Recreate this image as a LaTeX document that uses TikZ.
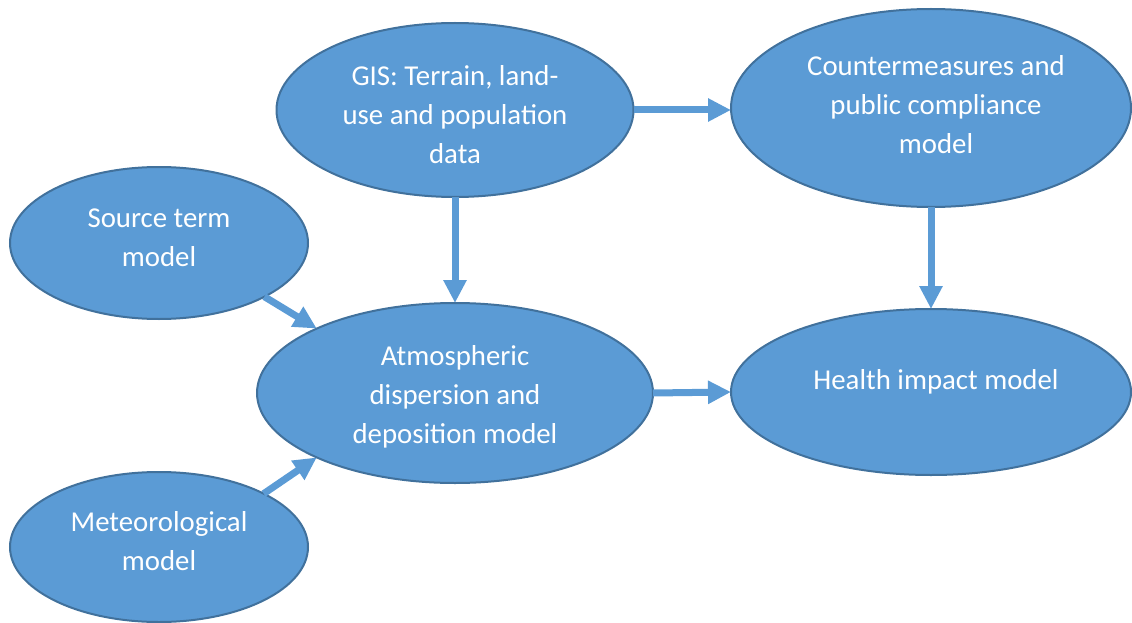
\documentclass[tikz,border=0pt]{standalone}
\usepackage{fontspec}
\setmainfont{Carlito}
\usetikzlibrary{arrows.meta,shapes.geometric}
\definecolor{modelfill}{HTML}{5B9BD5}
\definecolor{modelline}{HTML}{41719C}
\begin{document}
\begin{tikzpicture}[x=1pt,y=-1pt,
  model/.style={ellipse,draw=modelline,fill=modelfill,line width=2pt,
    inner sep=0pt,outer sep=0pt},
  caption/.style={text=white,align=center,inner sep=0pt,
    font=\fontsize{28.8}{39}\selectfont},
  flow/.style={draw=modelfill,line width=7pt,
    -{Triangle[length=23pt,width=22pt]}}]
\useasboundingbox (0,0) rectangle (1132,623);

% model ellipses
\node[model,minimum width=357pt,minimum height=174pt] (gis) at (455,110) {};
\node[model,minimum width=400pt,minimum height=198pt] (cm)  at (931,108) {};
\node[model,minimum width=298pt,minimum height=152pt] (src) at (159,243) {};
\node[model,minimum width=396pt,minimum height=180pt] (atm) at (455,393) {};
\node[model,minimum width=400pt,minimum height=166pt] (hlth) at (931,392) {};
\node[model,minimum width=298pt,minimum height=150pt] (met) at (159,547) {};

% captions
\node[caption] (gist) at ([yshift=-5pt]gis.center) {GIS: Terrain, land-\\use and population\\data};
\node[caption] (cmt) at ([xshift=5pt,yshift=3pt]cm.center) {Countermeasures and\\public compliance\\model};
\node[caption] (srct) at ([yshift=5pt]src.center) {Source term\\model};
\node[caption] (atmt) at ([yshift=-4pt]atm.center) {Atmospheric\\dispersion and\\deposition model};
\node[caption] (hlt) at ([xshift=5pt,yshift=10pt]hlth.center) {Health impact model};
\node[caption] (mett) at ([yshift=6pt]met.center) {Meteorological\\model};

% data flow between models
\draw[flow] (gis.east) -- (gis.east -| cm.west);
\draw[flow] (cm.south) -- (hlth.north);
\draw[flow] (gis.south) -- (atm.north);
\draw[flow] (atm.east) -- (hlth.west);
\draw[flow] (src.-27) -- (atm.155);
\draw[flow] (met.27) -- (atm.205);
\end{tikzpicture}
\end{document}
